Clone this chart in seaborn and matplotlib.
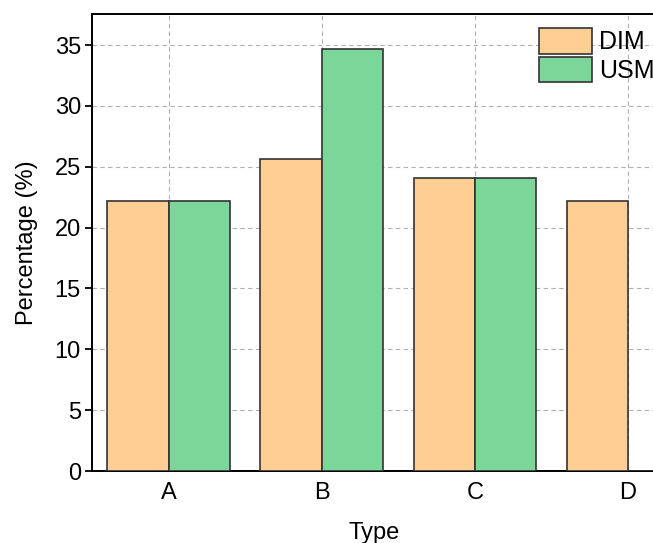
import matplotlib
matplotlib.use("Agg")
import matplotlib.pyplot as plt
import pandas as pd
import seaborn as sns

# data
types = ["A", "B", "C", "D"]
dim_values = [22.2, 25.6, 24.1, 22.2]
usm_values = [22.2, 34.7, 24.1, 0.0]
series = ["DIM", "USM"]
colors = ["#FECE93", "#7DD699"]
yticks = [0, 5, 10, 15, 20, 25, 30, 35]

df = pd.DataFrame({
    "Type": types * 2,
    "Percentage": dim_values + usm_values,
    "Method": ["DIM"] * len(types) + ["USM"] * len(types),
})

sns.set_style("white")
plt.rcParams["font.family"] = ["Liberation Sans", "DejaVu Sans"]
plt.rcParams["text.color"] = "black"
plt.rcParams["axes.labelcolor"] = "black"
plt.rcParams["xtick.color"] = "black"
plt.rcParams["ytick.color"] = "black"

fig = plt.figure(figsize=(6.53, 5.43), dpi=100)
ax = fig.add_axes([92 / 653, 72 / 543, 565 / 653, 457 / 543])

sns.barplot(data=df, x="Type", y="Percentage", hue="Method",
            hue_order=series, palette=colors, width=0.8,
            edgecolor="#333333", linewidth=1.2, saturation=1,
            ax=ax, zorder=3)

ax.grid(True, axis="both", color="#b0b0b0", linestyle=(0, (4, 3)),
        linewidth=0.8, zorder=0)
ax.set_axisbelow(True)

ax.set_xlim(-0.5, 3.19)
ax.set_ylim(0, 37.55)
ax.set_yticks(yticks)
ax.set_xlabel("Type", fontsize=17, labelpad=13)
ax.set_ylabel("Percentage (%)", fontsize=17, labelpad=12)
ax.tick_params(axis="y", direction="out", length=5, width=1.3,
               labelsize=17, left=True, pad=3)
ax.tick_params(axis="x", length=0, labelsize=17, pad=8)

for side in ["left", "bottom", "top"]:
    ax.spines[side].set_visible(True)
    ax.spines[side].set_color("black")
    ax.spines[side].set_linewidth(1.4)
ax.spines["right"].set_visible(False)

ax.legend(loc="upper left", bbox_to_anchor=(539 / 653, 1 - 28 / 543),
          bbox_transform=fig.transFigure, frameon=False, fontsize=18,
          handlelength=2.1, handleheight=1.2, labelspacing=0.1,
          handletextpad=0.3, borderpad=0, borderaxespad=0)

fig.savefig("out.png", dpi=100)
